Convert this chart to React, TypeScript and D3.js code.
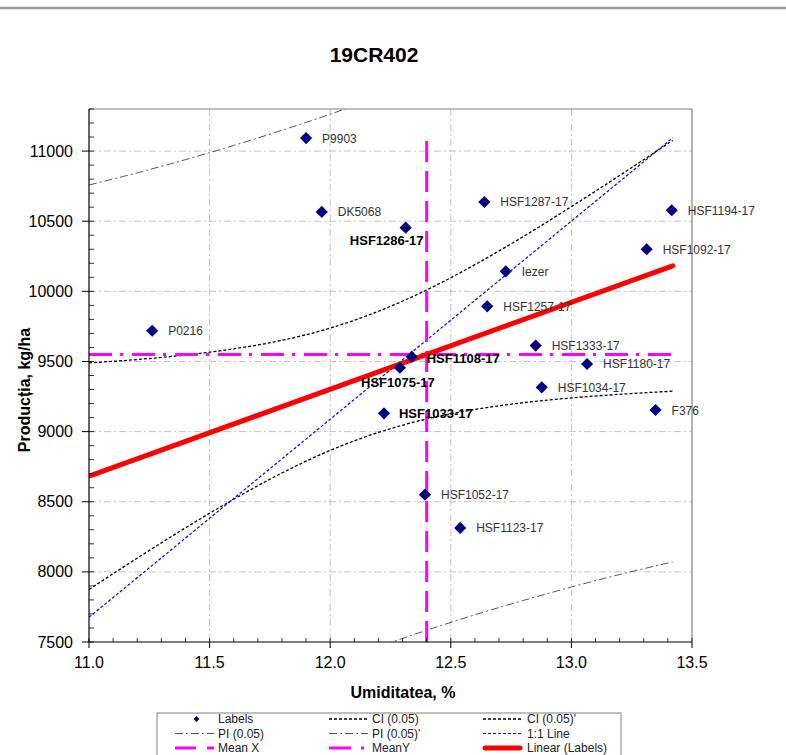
import React from "react";
import * as d3 from "d3";

// ---- data ----
const names = [
  "P9903", "DK5068", "HSF1286-17", "P0216", "HSF1287-17", "HSF1194-17",
  "HSF1092-17", "Iezer", "HSF1257-17", "HSF1333-17", "HSF1180-17", "HSF1034-17",
  "F376", "HSF1052-17", "HSF1123-17", "HSF1108-17", "HSF1075-17", "HSF1033-17",
];
const umiditate = [
  11.9, 11.965, 12.313, 11.262, 12.639, 13.416,
  13.312, 12.728, 12.651, 12.852, 13.065, 12.877,
  13.349, 12.393, 12.539, 12.338, 12.289, 12.223,
];
const productie = [
  11093, 10566, 10454, 9719, 10637, 10578,
  10300, 10143, 9893, 9613, 9482, 9316,
  9154, 8550, 8313, 9534, 9456, 9130,
];

const bandX = [11.0, 11.2, 11.4, 11.6, 11.8, 12.0, 12.2, 12.4, 12.6, 12.8, 13.0, 13.2, 13.42];
const ciUpper = [9490, 9514, 9546, 9590, 9651, 9738, 9858, 10010, 10190, 10390, 10604, 10826, 11076];
const ciLower = [7874, 8098, 8314, 8518, 8705, 8866, 8994, 9090, 9158, 9206, 9240, 9266, 9288];
const piUpper = [10758, 10845, 10939, 11040, 11148, 11263, 11386, 11517, 11654, 11800, 11952, 12111, 12293];
const piLower = [6606, 6767, 6921, 7068, 7208, 7341, 7466, 7584, 7694, 7796, 7892, 7981, 8071];

const linearX = [11.0, 13.42];
const linearY = [8682, 10182];
const oneToOneX = [11.0, 13.42];
const oneToOneY = [7676, 11094];
const meanX = 12.4;
const meanXSpan = [7500, 11100];
const meanY = 9550;
const meanYSpan = [11.0, 13.42];

const xTicks = [11.0, 11.5, 12.0, 12.5, 13.0, 13.5];
const yTicks = [7500, 8000, 8500, 9000, 9500, 10000, 10500, 11000];

const title = "19CR402";
const xTitle = "Umiditatea, %";
const yTitle = "Producția, kg/ha";

// label placement (style only)
const boldPlacement: Record<string, { dx: number; dy: number; anchor: string }> = {
  "HSF1286-17": { dx: -19, dy: 17, anchor: "middle" },
  "HSF1108-17": { dx: 15, dy: 6, anchor: "start" },
  "HSF1075-17": { dx: -2, dy: 19.6, anchor: "middle" },
  "HSF1033-17": { dx: 15, dy: 5, anchor: "start" },
};

const FONT = "'Liberation Sans', Arial, sans-serif";

export default function App() {
  const L = 89, R = 692, T = 109, B = 642;
  const x = d3.scaleLinear().domain([11, 13.5]).range([L, R]);
  const y = d3.scaleLinear().domain([7500, 11300]).range([B, T]);

  const curve = d3
    .line<[number, number]>()
    .x((d) => x(d[0]))
    .y((d) => y(d[1]))
    .curve(d3.curveMonotoneX);
  const straight = d3
    .line<[number, number]>()
    .x((d) => x(d[0]))
    .y((d) => y(d[1]));

  const zip = (xs: number[], ys: number[]) => xs.map((v, i) => [v, ys[i]] as [number, number]);

  const xMinor = d3.range(11.0, 13.5001, 0.1);
  const yMinor = d3.range(7500, 11300.1, 100);

  const gridDash = "7,3,2,3";
  const diamond = d3.symbol().type(d3.symbolDiamond2).size(95)();
  const smallDiamond = d3.symbol().type(d3.symbolDiamond2).size(22)();

  const legendRows = [719, 733.5, 748];
  const legendCols = [175, 329, 483];
  const symW = 39;
  const lfs = 12;

  return (
    <svg
      width={786}
      height={755}
      style={{ position: "absolute", left: 0, top: 0, background: "#fff" }}
      fontFamily={FONT}
    >
      <rect x={0} y={0} width={786} height={755} fill="#fff" />
      <line x1={0} x2={786} y1={8} y2={8} stroke="#999" strokeWidth={2.5} />
      <text x={374} y={62} textAnchor="middle" fontSize={21} fontWeight="bold" fill="#000">
        {title}
      </text>

      <defs>
        <clipPath id="plotclip">
          <rect x={L} y={T} width={R - L} height={B - T} />
        </clipPath>
      </defs>

      {/* grid */}
      {xTicks.slice(1, -1).map((t) => (
        <line key={"gx" + t} x1={x(t)} x2={x(t)} y1={T} y2={B} stroke="#c4c4c4" strokeDasharray={gridDash} />
      ))}
      {yTicks.slice(1).map((t) => (
        <line key={"gy" + t} x1={L} x2={R} y1={y(t)} y2={y(t)} stroke="#c4c4c4" strokeDasharray={gridDash} />
      ))}

      {/* frame */}
      <line x1={L} x2={R} y1={T} y2={T} stroke="#808080" strokeWidth={1.2} />
      <line x1={R} x2={R} y1={T} y2={B} stroke="#808080" strokeWidth={1.2} />

      <g clipPath="url(#plotclip)">
        {/* PI */}
        <path d={curve(zip(bandX, piUpper)) || ""} fill="none" stroke="#444" strokeWidth={0.9} strokeDasharray="8,3,2,3" />
        <path d={curve(zip(bandX, piLower)) || ""} fill="none" stroke="#444" strokeWidth={0.9} strokeDasharray="8,3,2,3" />
        {/* CI */}
        <path d={curve(zip(bandX, ciUpper)) || ""} fill="none" stroke="#000" strokeWidth={1.3} strokeDasharray="3,2" />
        <path d={curve(zip(bandX, ciLower)) || ""} fill="none" stroke="#000" strokeWidth={1.3} strokeDasharray="3,2" />
        {/* 1:1 */}
        <path d={straight(zip(oneToOneX, oneToOneY)) || ""} fill="none" stroke="#0000ff" strokeWidth={1.2} strokeDasharray="3,2" />
        {/* mean lines */}
        <line x1={x(meanX)} x2={x(meanX)} y1={y(meanXSpan[0])} y2={y(meanXSpan[1])} stroke="#ff00ff" strokeWidth={3} strokeDasharray="21,9" />
        <line x1={x(meanYSpan[0])} x2={x(meanYSpan[1])} y1={y(meanY)} y2={y(meanY)} stroke="#ff00ff" strokeWidth={3} strokeDasharray="23,8,3,9" />
        {/* linear */}
        <path d={straight(zip(linearX, linearY)) || ""} fill="none" stroke="#ff0000" strokeWidth={5} strokeLinecap="round" />
      </g>

      {/* points */}
      {names.map((n, i) => (
        <path key={"p" + n} d={diamond || ""} transform={`translate(${x(umiditate[i])},${y(productie[i])})`} fill="#000080" />
      ))}
      {names.map((n, i) => {
        const bp = boldPlacement[n];
        const px = x(umiditate[i]);
        const py = y(productie[i]);
        if (bp) {
          return (
            <text key={"l" + n} x={px + bp.dx} y={py + bp.dy} textAnchor={bp.anchor} fontSize={13} fontWeight="bold" fill="#000">
              {n}
            </text>
          );
        }
        return (
          <text key={"l" + n} x={px + 16} y={py + 4.5} fontSize={12} fill="#333">
            {n}
          </text>
        );
      })}

      {/* axes */}
      <line x1={L} x2={L} y1={T} y2={B} stroke="#000" strokeWidth={1.2} />
      <line x1={L} x2={R} y1={B} y2={B} stroke="#000" strokeWidth={1.2} />
      {yMinor.map((t) => (
        <line key={"ym" + t} x1={L} x2={L + 5} y1={y(t)} y2={y(t)} stroke="#000" strokeWidth={0.8} />
      ))}
      {yTicks.map((t) => (
        <g key={"yt" + t}>
          <line x1={L - 7} x2={L} y1={y(t)} y2={y(t)} stroke="#000" strokeWidth={1} />
          <text x={73} y={y(t) + 5.5} textAnchor="end" fontSize={16} fill="#000">
            {t}
          </text>
        </g>
      ))}
      {xMinor.map((t) => (
        <line key={"xm" + t.toFixed(1)} x1={x(t)} x2={x(t)} y1={B} y2={B - 4} stroke="#000" strokeWidth={0.8} />
      ))}
      {xTicks.map((t) => (
        <g key={"xt" + t}>
          <line x1={x(t)} x2={x(t)} y1={B} y2={B + 6} stroke="#000" strokeWidth={1} />
          <text x={x(t)} y={668} textAnchor="middle" fontSize={16} fill="#000">
            {d3.format(".1f")(t)}
          </text>
        </g>
      ))}
      <text x={403} y={698} textAnchor="middle" fontSize={16} fontWeight="bold" fill="#000">
        {xTitle}
      </text>
      <text
        transform={`translate(30,390) rotate(-90)`}
        textAnchor="middle"
        fontSize={16}
        fontWeight="bold"
        fill="#000"
      >
        {yTitle}
      </text>

      {/* legend */}
      <rect x={157} y={713} width={464} height={60} fill="#fff" stroke="#808080" strokeWidth={1} />
      {/* row 1 */}
      <path d={smallDiamond || ""} transform={`translate(${legendCols[0] + 21.5},${legendRows[0]})`} fill="#000080" />
      <text x={legendCols[0] + 43} y={legendRows[0] + 4} fontSize={lfs} fill="#222">Labels</text>
      <line x1={legendCols[1]} x2={legendCols[1] + symW} y1={legendRows[0]} y2={legendRows[0]} stroke="#000" strokeWidth={1.3} strokeDasharray="3,2" />
      <text x={legendCols[1] + 43} y={legendRows[0] + 4} fontSize={lfs} fill="#222">CI (0.05)</text>
      <line x1={legendCols[2]} x2={legendCols[2] + symW} y1={legendRows[0]} y2={legendRows[0]} stroke="#000" strokeWidth={1.3} strokeDasharray="3,2" />
      <text x={legendCols[2] + 44} y={legendRows[0] + 4} fontSize={lfs} fill="#222">CI (0.05)'</text>
      {/* row 2 */}
      <line x1={legendCols[0]} x2={legendCols[0] + symW} y1={legendRows[1]} y2={legendRows[1]} stroke="#444" strokeWidth={0.9} strokeDasharray="8,3,2,3" />
      <text x={legendCols[0] + 43} y={legendRows[1] + 4} fontSize={lfs} fill="#222">PI (0.05)</text>
      <line x1={legendCols[1]} x2={legendCols[1] + symW} y1={legendRows[1]} y2={legendRows[1]} stroke="#444" strokeWidth={0.9} strokeDasharray="8,3,2,3" />
      <text x={legendCols[1] + 43} y={legendRows[1] + 4} fontSize={lfs} fill="#222">PI (0.05)'</text>
      <line x1={legendCols[2]} x2={legendCols[2] + symW} y1={legendRows[1]} y2={legendRows[1]} stroke="#0000ff" strokeWidth={1.2} strokeDasharray="3,2" />
      <text x={legendCols[2] + 44} y={legendRows[1] + 4} fontSize={lfs} fill="#222">1:1 Line</text>
      {/* row 3 */}
      <line x1={legendCols[0]} x2={legendCols[0] + symW} y1={legendRows[2]} y2={legendRows[2]} stroke="#ff00ff" strokeWidth={3} strokeDasharray="21,11,7,10" />
      <text x={legendCols[0] + 43} y={legendRows[2] + 4} fontSize={lfs} fill="#222">Mean X</text>
      <line x1={legendCols[1]} x2={legendCols[1] + symW} y1={legendRows[2]} y2={legendRows[2]} stroke="#ff00ff" strokeWidth={3} strokeDasharray="22,10,3,10" />
      <text x={legendCols[1] + 43} y={legendRows[2] + 4} fontSize={lfs} fill="#222">MeanY</text>
      <line x1={legendCols[2] + 2} x2={legendCols[2] + symW - 2} y1={legendRows[2]} y2={legendRows[2]} stroke="#ff0000" strokeWidth={5} strokeLinecap="round" />
      <text x={legendCols[2] + 44} y={legendRows[2] + 4} fontSize={lfs} fill="#222">Linear (Labels)</text>
    </svg>
  );
}
